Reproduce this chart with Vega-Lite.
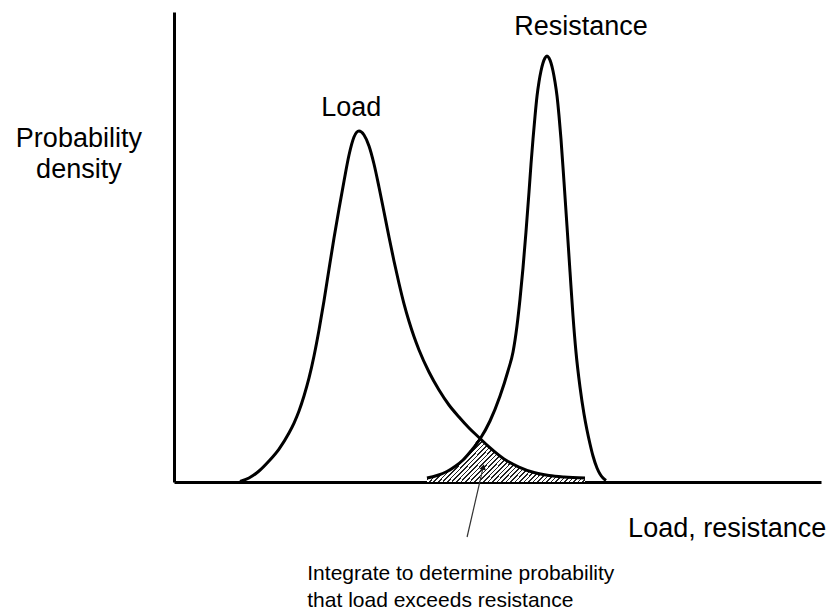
{
  "$schema": "https://vega.github.io/schema/vega-lite/v6.json",
  "width": 647,
  "height": 470,
  "autosize": {"type": "none"},
  "padding": {"left": 174, "top": 12, "right": 16, "bottom": 128},
  "background": "white",
  "config": {"view": {"stroke": null}},
  "datasets": {
    "curves": [
      {"series": "Load", "x": 10.20, "y": 0.11},
      {"series": "Load", "x": 11.59, "y": 0.85},
      {"series": "Load", "x": 13.14, "y": 2.34},
      {"series": "Load", "x": 14.68, "y": 4.47},
      {"series": "Load", "x": 16.23, "y": 7.02},
      {"series": "Load", "x": 17.77, "y": 10.43},
      {"series": "Load", "x": 18.55, "y": 12.55},
      {"series": "Load", "x": 19.32, "y": 15.11},
      {"series": "Load", "x": 20.09, "y": 18.30},
      {"series": "Load", "x": 20.87, "y": 22.13},
      {"series": "Load", "x": 21.64, "y": 26.81},
      {"series": "Load", "x": 22.41, "y": 32.34},
      {"series": "Load", "x": 23.18, "y": 38.51},
      {"series": "Load", "x": 23.96, "y": 45.32},
      {"series": "Load", "x": 24.73, "y": 51.91},
      {"series": "Load", "x": 25.50, "y": 58.09},
      {"series": "Load", "x": 26.28, "y": 64.04},
      {"series": "Load", "x": 27.05, "y": 69.57},
      {"series": "Load", "x": 27.82, "y": 73.40},
      {"series": "Load", "x": 28.59, "y": 74.68},
      {"series": "Load", "x": 29.37, "y": 73.83},
      {"series": "Load", "x": 30.14, "y": 71.49},
      {"series": "Load", "x": 30.91, "y": 67.66},
      {"series": "Load", "x": 31.68, "y": 62.77},
      {"series": "Load", "x": 32.46, "y": 57.45},
      {"series": "Load", "x": 33.23, "y": 52.13},
      {"series": "Load", "x": 34.00, "y": 47.02},
      {"series": "Load", "x": 34.78, "y": 42.23},
      {"series": "Load", "x": 35.55, "y": 37.90},
      {"series": "Load", "x": 36.32, "y": 34.20},
      {"series": "Load", "x": 37.09, "y": 30.95},
      {"series": "Load", "x": 37.87, "y": 28.09},
      {"series": "Load", "x": 39.41, "y": 23.40},
      {"series": "Load", "x": 40.96, "y": 19.57},
      {"series": "Load", "x": 42.50, "y": 16.38},
      {"series": "Load", "x": 44.05, "y": 13.83},
      {"series": "Load", "x": 45.60, "y": 11.49},
      {"series": "Load", "x": 47.14, "y": 9.47},
      {"series": "Load", "x": 48.69, "y": 7.45},
      {"series": "Load", "x": 51.00, "y": 4.89},
      {"series": "Load", "x": 53.32, "y": 3.19},
      {"series": "Load", "x": 55.64, "y": 2.02},
      {"series": "Load", "x": 57.96, "y": 1.38},
      {"series": "Load", "x": 60.28, "y": 1.06},
      {"series": "Load", "x": 63.52, "y": 0.85},
      {"series": "Resistance", "x": 39.10, "y": 0.85},
      {"series": "Resistance", "x": 40.65, "y": 1.38},
      {"series": "Resistance", "x": 42.19, "y": 2.23},
      {"series": "Resistance", "x": 43.43, "y": 3.30},
      {"series": "Resistance", "x": 44.67, "y": 4.68},
      {"series": "Resistance", "x": 45.90, "y": 6.60},
      {"series": "Resistance", "x": 47.30, "y": 9.15},
      {"series": "Resistance", "x": 48.84, "y": 12.98},
      {"series": "Resistance", "x": 50.39, "y": 18.30},
      {"series": "Resistance", "x": 51.62, "y": 23.62},
      {"series": "Resistance", "x": 52.40, "y": 27.66},
      {"series": "Resistance", "x": 53.01, "y": 33.19},
      {"series": "Resistance", "x": 53.48, "y": 38.94},
      {"series": "Resistance", "x": 53.94, "y": 45.53},
      {"series": "Resistance", "x": 54.40, "y": 53.19},
      {"series": "Resistance", "x": 54.87, "y": 61.70},
      {"series": "Resistance", "x": 55.18, "y": 67.66},
      {"series": "Resistance", "x": 55.49, "y": 72.98},
      {"series": "Resistance", "x": 55.80, "y": 77.87},
      {"series": "Resistance", "x": 56.11, "y": 82.13},
      {"series": "Resistance", "x": 56.41, "y": 85.11},
      {"series": "Resistance", "x": 56.72, "y": 87.45},
      {"series": "Resistance", "x": 57.03, "y": 89.15},
      {"series": "Resistance", "x": 57.34, "y": 90.21},
      {"series": "Resistance", "x": 57.65, "y": 90.64},
      {"series": "Resistance", "x": 57.96, "y": 90.21},
      {"series": "Resistance", "x": 58.27, "y": 89.15},
      {"series": "Resistance", "x": 58.58, "y": 87.45},
      {"series": "Resistance", "x": 58.89, "y": 85.11},
      {"series": "Resistance", "x": 59.20, "y": 82.13},
      {"series": "Resistance", "x": 59.51, "y": 77.87},
      {"series": "Resistance", "x": 59.81, "y": 72.98},
      {"series": "Resistance", "x": 60.28, "y": 63.83},
      {"series": "Resistance", "x": 60.74, "y": 54.47},
      {"series": "Resistance", "x": 61.21, "y": 44.68},
      {"series": "Resistance", "x": 61.67, "y": 35.32},
      {"series": "Resistance", "x": 62.13, "y": 27.66},
      {"series": "Resistance", "x": 62.75, "y": 20.21},
      {"series": "Resistance", "x": 63.37, "y": 14.47},
      {"series": "Resistance", "x": 63.83, "y": 11.06},
      {"series": "Resistance", "x": 64.30, "y": 8.09},
      {"series": "Resistance", "x": 64.76, "y": 5.53},
      {"series": "Resistance", "x": 65.38, "y": 2.98},
      {"series": "Resistance", "x": 65.84, "y": 1.70},
      {"series": "Resistance", "x": 66.31, "y": 0.85},
      {"series": "Resistance", "x": 66.77, "y": 0.32}
    ],
    "overlap": [
      {"x": 39.10, "y": 0.85},
      {"x": 40.65, "y": 1.38},
      {"x": 42.19, "y": 2.23},
      {"x": 43.43, "y": 3.30},
      {"x": 44.67, "y": 4.68},
      {"x": 45.90, "y": 6.60},
      {"x": 47.20, "y": 9.30},
      {"x": 48.69, "y": 7.45},
      {"x": 51.00, "y": 4.89},
      {"x": 53.32, "y": 3.19},
      {"x": 55.64, "y": 2.02},
      {"x": 57.96, "y": 1.38},
      {"x": 60.28, "y": 1.06},
      {"x": 63.52, "y": 0.85}
    ],
    "bigText": [
      {"x": 62.9, "y": 95.1, "label": "Resistance"},
      {"x": 27.4, "y": 77.9, "label": "Load"},
      {"x": -14.7, "y": 71.3, "label": "Probability"},
      {"x": -14.7, "y": 64.7, "label": "density"},
      {"x": 85.5, "y": -11.7, "label": "Load, resistance"}
    ],
    "noteText": [
      {"x": 20.6, "y": -20.9, "label": "Integrate to determine probability"},
      {"x": 20.6, "y": -26.6, "label": "that load exceeds resistance"}
    ],
    "arrow": [
      {"x": 45.3, "y": -11.7, "x2": 47.8, "y2": 3.2}
    ],
    "arrowHead": [
      {"x": 47.8, "y": 3.2}
    ]
  },
  "layer": [
    {
      "data": {"name": "overlap"},
      "mark": {
        "type": "area",
        "interpolate": "monotone",
        "fill": {
          "gradient": "linear",
          "x1": 0, "y1": 0, "x2": 1.2, "y2": 0.319,
          "stops": [
            {"offset": 0, "color": "#fff"}, {"offset": 0.0144, "color": "#fff"}, {"offset": 0.0144, "color": "#222"}, {"offset": 0.0222, "color": "#222"},
            {"offset": 0.0222, "color": "#fff"}, {"offset": 0.0366, "color": "#fff"}, {"offset": 0.0366, "color": "#222"}, {"offset": 0.0444, "color": "#222"},
            {"offset": 0.0444, "color": "#fff"}, {"offset": 0.0588, "color": "#fff"}, {"offset": 0.0588, "color": "#222"}, {"offset": 0.0667, "color": "#222"},
            {"offset": 0.0667, "color": "#fff"}, {"offset": 0.0811, "color": "#fff"}, {"offset": 0.0811, "color": "#222"}, {"offset": 0.0889, "color": "#222"},
            {"offset": 0.0889, "color": "#fff"}, {"offset": 0.1033, "color": "#fff"}, {"offset": 0.1033, "color": "#222"}, {"offset": 0.1111, "color": "#222"},
            {"offset": 0.1111, "color": "#fff"}, {"offset": 0.1255, "color": "#fff"}, {"offset": 0.1255, "color": "#222"}, {"offset": 0.1333, "color": "#222"},
            {"offset": 0.1333, "color": "#fff"}, {"offset": 0.1477, "color": "#fff"}, {"offset": 0.1477, "color": "#222"}, {"offset": 0.1556, "color": "#222"},
            {"offset": 0.1556, "color": "#fff"}, {"offset": 0.17, "color": "#fff"}, {"offset": 0.17, "color": "#222"}, {"offset": 0.1778, "color": "#222"},
            {"offset": 0.1778, "color": "#fff"}, {"offset": 0.1922, "color": "#fff"}, {"offset": 0.1922, "color": "#222"}, {"offset": 0.2, "color": "#222"},
            {"offset": 0.2, "color": "#fff"}, {"offset": 0.2144, "color": "#fff"}, {"offset": 0.2144, "color": "#222"}, {"offset": 0.2222, "color": "#222"},
            {"offset": 0.2222, "color": "#fff"}, {"offset": 0.2366, "color": "#fff"}, {"offset": 0.2366, "color": "#222"}, {"offset": 0.2444, "color": "#222"},
            {"offset": 0.2444, "color": "#fff"}, {"offset": 0.2588, "color": "#fff"}, {"offset": 0.2588, "color": "#222"}, {"offset": 0.2667, "color": "#222"},
            {"offset": 0.2667, "color": "#fff"}, {"offset": 0.2811, "color": "#fff"}, {"offset": 0.2811, "color": "#222"}, {"offset": 0.2889, "color": "#222"},
            {"offset": 0.2889, "color": "#fff"}, {"offset": 0.3033, "color": "#fff"}, {"offset": 0.3033, "color": "#222"}, {"offset": 0.3111, "color": "#222"},
            {"offset": 0.3111, "color": "#fff"}, {"offset": 0.3255, "color": "#fff"}, {"offset": 0.3255, "color": "#222"}, {"offset": 0.3333, "color": "#222"},
            {"offset": 0.3333, "color": "#fff"}, {"offset": 0.3477, "color": "#fff"}, {"offset": 0.3477, "color": "#222"}, {"offset": 0.3556, "color": "#222"},
            {"offset": 0.3556, "color": "#fff"}, {"offset": 0.37, "color": "#fff"}, {"offset": 0.37, "color": "#222"}, {"offset": 0.3778, "color": "#222"},
            {"offset": 0.3778, "color": "#fff"}, {"offset": 0.3922, "color": "#fff"}, {"offset": 0.3922, "color": "#222"}, {"offset": 0.4, "color": "#222"},
            {"offset": 0.4, "color": "#fff"}, {"offset": 0.4144, "color": "#fff"}, {"offset": 0.4144, "color": "#222"}, {"offset": 0.4222, "color": "#222"},
            {"offset": 0.4222, "color": "#fff"}, {"offset": 0.4366, "color": "#fff"}, {"offset": 0.4366, "color": "#222"}, {"offset": 0.4444, "color": "#222"},
            {"offset": 0.4444, "color": "#fff"}, {"offset": 0.4588, "color": "#fff"}, {"offset": 0.4588, "color": "#222"}, {"offset": 0.4667, "color": "#222"},
            {"offset": 0.4667, "color": "#fff"}, {"offset": 0.4811, "color": "#fff"}, {"offset": 0.4811, "color": "#222"}, {"offset": 0.4889, "color": "#222"},
            {"offset": 0.4889, "color": "#fff"}, {"offset": 0.5033, "color": "#fff"}, {"offset": 0.5033, "color": "#222"}, {"offset": 0.5111, "color": "#222"},
            {"offset": 0.5111, "color": "#fff"}, {"offset": 0.5255, "color": "#fff"}, {"offset": 0.5255, "color": "#222"}, {"offset": 0.5333, "color": "#222"},
            {"offset": 0.5333, "color": "#fff"}, {"offset": 0.5477, "color": "#fff"}, {"offset": 0.5477, "color": "#222"}, {"offset": 0.5556, "color": "#222"},
            {"offset": 0.5556, "color": "#fff"}, {"offset": 0.57, "color": "#fff"}, {"offset": 0.57, "color": "#222"}, {"offset": 0.5778, "color": "#222"},
            {"offset": 0.5778, "color": "#fff"}, {"offset": 0.5922, "color": "#fff"}, {"offset": 0.5922, "color": "#222"}, {"offset": 0.6, "color": "#222"},
            {"offset": 0.6, "color": "#fff"}, {"offset": 0.6144, "color": "#fff"}, {"offset": 0.6144, "color": "#222"}, {"offset": 0.6222, "color": "#222"},
            {"offset": 0.6222, "color": "#fff"}, {"offset": 0.6366, "color": "#fff"}, {"offset": 0.6366, "color": "#222"}, {"offset": 0.6444, "color": "#222"},
            {"offset": 0.6444, "color": "#fff"}, {"offset": 0.6588, "color": "#fff"}, {"offset": 0.6588, "color": "#222"}, {"offset": 0.6667, "color": "#222"},
            {"offset": 0.6667, "color": "#fff"}, {"offset": 0.6811, "color": "#fff"}, {"offset": 0.6811, "color": "#222"}, {"offset": 0.6889, "color": "#222"},
            {"offset": 0.6889, "color": "#fff"}, {"offset": 0.7033, "color": "#fff"}, {"offset": 0.7033, "color": "#222"}, {"offset": 0.7111, "color": "#222"},
            {"offset": 0.7111, "color": "#fff"}, {"offset": 0.7255, "color": "#fff"}, {"offset": 0.7255, "color": "#222"}, {"offset": 0.7333, "color": "#222"},
            {"offset": 0.7333, "color": "#fff"}, {"offset": 0.7477, "color": "#fff"}, {"offset": 0.7477, "color": "#222"}, {"offset": 0.7556, "color": "#222"},
            {"offset": 0.7556, "color": "#fff"}, {"offset": 0.77, "color": "#fff"}, {"offset": 0.77, "color": "#222"}, {"offset": 0.7778, "color": "#222"},
            {"offset": 0.7778, "color": "#fff"}, {"offset": 0.7922, "color": "#fff"}, {"offset": 0.7922, "color": "#222"}, {"offset": 0.8, "color": "#222"},
            {"offset": 0.8, "color": "#fff"}, {"offset": 0.8144, "color": "#fff"}, {"offset": 0.8144, "color": "#222"}, {"offset": 0.8222, "color": "#222"},
            {"offset": 0.8222, "color": "#fff"}, {"offset": 0.8366, "color": "#fff"}, {"offset": 0.8366, "color": "#222"}, {"offset": 0.8444, "color": "#222"},
            {"offset": 0.8444, "color": "#fff"}, {"offset": 0.8588, "color": "#fff"}, {"offset": 0.8588, "color": "#222"}, {"offset": 0.8667, "color": "#222"},
            {"offset": 0.8667, "color": "#fff"}, {"offset": 0.8811, "color": "#fff"}, {"offset": 0.8811, "color": "#222"}, {"offset": 0.8889, "color": "#222"},
            {"offset": 0.8889, "color": "#fff"}, {"offset": 0.9033, "color": "#fff"}, {"offset": 0.9033, "color": "#222"}, {"offset": 0.9111, "color": "#222"},
            {"offset": 0.9111, "color": "#fff"}, {"offset": 0.9255, "color": "#fff"}, {"offset": 0.9255, "color": "#222"}, {"offset": 0.9333, "color": "#222"},
            {"offset": 0.9333, "color": "#fff"}, {"offset": 0.9477, "color": "#fff"}, {"offset": 0.9477, "color": "#222"}, {"offset": 0.9556, "color": "#222"},
            {"offset": 0.9556, "color": "#fff"}, {"offset": 0.97, "color": "#fff"}, {"offset": 0.97, "color": "#222"}, {"offset": 0.9778, "color": "#222"},
            {"offset": 0.9778, "color": "#fff"}, {"offset": 0.9922, "color": "#fff"}, {"offset": 0.9922, "color": "#222"}, {"offset": 1, "color": "#222"}
          ]
        }
      },
      "encoding": {
        "x": {"field": "x", "type": "quantitative", "scale": {"domain": [0, 100], "nice": false, "zero": false},
              "axis": {"title": null, "labels": false, "ticks": false, "grid": false, "domainColor": "black", "domainWidth": 3}},
        "y": {"field": "y", "type": "quantitative", "scale": {"domain": [0, 100], "nice": false},
              "axis": {"title": null, "labels": false, "ticks": false, "grid": false, "domainColor": "black", "domainWidth": 3}}
      }
    },
    {
      "data": {"name": "curves"},
      "mark": {"type": "line", "interpolate": "monotone", "color": "black", "strokeWidth": 3},
      "encoding": {
        "x": {"field": "x", "type": "quantitative"},
        "y": {"field": "y", "type": "quantitative"},
        "detail": {"field": "series", "type": "nominal"}
      }
    },
    {
      "data": {"name": "arrow"},
      "mark": {"type": "rule", "color": "#333", "strokeWidth": 1.2},
      "encoding": {
        "x": {"field": "x", "type": "quantitative"},
        "y": {"field": "y", "type": "quantitative"},
        "x2": {"field": "x2"},
        "y2": {"field": "y2"}
      }
    },
    {
      "data": {"name": "arrowHead"},
      "mark": {"type": "point", "shape": "triangle-up", "filled": true, "color": "#111", "size": 45, "angle": 13, "opacity": 1},
      "encoding": {
        "x": {"field": "x", "type": "quantitative"},
        "y": {"field": "y", "type": "quantitative"}
      }
    },
    {
      "data": {"name": "bigText"},
      "mark": {"type": "text", "align": "center", "baseline": "alphabetic", "font": "Liberation Sans", "fontSize": 27, "color": "black"},
      "encoding": {
        "x": {"field": "x", "type": "quantitative"},
        "y": {"field": "y", "type": "quantitative"},
        "text": {"field": "label"}
      }
    },
    {
      "data": {"name": "noteText"},
      "mark": {"type": "text", "align": "left", "baseline": "alphabetic", "font": "Liberation Sans", "fontSize": 21, "color": "black"},
      "encoding": {
        "x": {"field": "x", "type": "quantitative"},
        "y": {"field": "y", "type": "quantitative"},
        "text": {"field": "label"}
      }
    }
  ]
}
